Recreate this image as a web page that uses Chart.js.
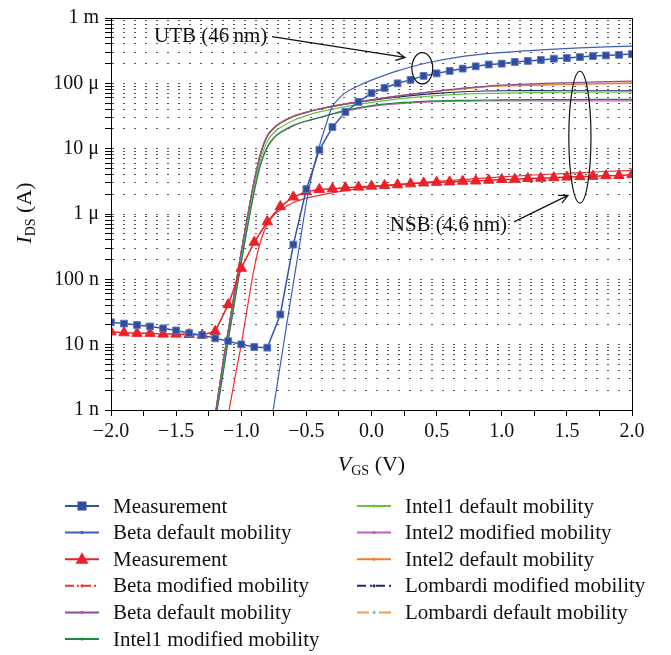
<!DOCTYPE html>
<html>
<head>
<meta charset="utf-8">
<script src="https://cdn.jsdelivr.net/npm/chart.js@4/dist/chart.umd.min.js"></script>
<style>
  html, body { margin: 0; padding: 0; background: #fff; }
  #wrap { width: 671px; height: 655px; position: relative; }
</style>
</head>
<body>
<div id="wrap"><canvas id="graph"></canvas></div>
<script>
// measured points, 0.1 V steps
const vgsMeas = [-2.0, -1.9, -1.8, -1.7, -1.6, -1.5, -1.4, -1.3, -1.2, -1.1, -1.0, -0.9, -0.8, -0.7, -0.6, -0.5, -0.4, -0.3, -0.2, -0.1,
  0.0, 0.1, 0.2, 0.3, 0.4, 0.5, 0.6, 0.7, 0.8, 0.9, 1.0, 1.1, 1.2, 1.3, 1.4, 1.5, 1.6, 1.7, 1.8, 1.9, 2.0];
const idsUtbMeas = [2.2e-8, 2.1e-8, 2.0e-8, 1.9e-8, 1.78e-8, 1.65e-8, 1.5e-8, 1.4e-8, 1.25e-8, 1.13e-8, 1.01e-8, 9.2e-9, 9.0e-9,
  2.9e-8, 3.4e-7, 2.4e-6, 9.6e-6, 2.14e-5, 3.65e-5, 5.2e-5, 7.1e-5, 8.5e-5, 1.0e-4, 1.13e-4, 1.3e-4, 1.42e-4, 1.55e-4,
  1.68e-4, 1.82e-4, 1.94e-4, 2.0e-4, 2.12e-4, 2.2e-4, 2.28e-4, 2.38e-4, 2.44e-4, 2.52e-4, 2.61e-4, 2.67e-4, 2.73e-4, 2.8e-4];
const idsNsbMeas = [1.57e-8, 1.52e-8, 1.49e-8, 1.49e-8, 1.45e-8, 1.45e-8, 1.43e-8, 1.4e-8, 1.6e-8, 4.1e-8, 1.48e-7, 3.7e-7,
  7.6e-7, 1.3e-6, 1.82e-6, 2.2e-6, 2.38e-6, 2.44e-6, 2.52e-6, 2.58e-6, 2.67e-6, 2.73e-6, 2.8e-6, 2.9e-6, 2.99e-6, 3.06e-6,
  3.1e-6, 3.17e-6, 3.2e-6, 3.29e-6, 3.37e-6, 3.4e-6, 3.49e-6, 3.53e-6, 3.6e-6, 3.67e-6, 3.73e-6, 3.77e-6, 3.85e-6, 3.88e-6, 4.0e-6];

// UTB simulation (beta default mobility)
const vgsUtbSim = [-0.77, -0.70, -0.65, -0.60, -0.55, -0.50, -0.45, -0.40, -0.35, -0.30, -0.20, -0.10, 0.0, 0.2, 0.45, 0.8, 1.3, 1.6, 2.0];
const idsUtbSim = [6.5e-10, 4.9e-9, 2.1e-8, 8.7e-8, 3.6e-7, 1.5e-6, 4.6e-6, 1.1e-5, 2.3e-5, 4.4e-5, 7.2e-5, 9.2e-5, 1.12e-4,
  1.55e-4, 2.1e-4, 2.72e-4, 3.25e-4, 3.5e-4, 3.7e-4];

// NSB simulation (beta modified mobility)
const vgsNsbSim = [-1.11, -1.05, -1.0, -0.95, -0.90, -0.85, -0.80, -0.75, -0.70, -0.60, -0.45, -0.2, 0.0, 0.5, 1.0, 1.5, 2.0];
const idsNsbSim = [6.5e-10, 3.0e-9, 1.0e-8, 4.0e-8, 1.5e-7, 3.9e-7, 7.0e-7, 9.5e-7, 1.15e-6, 1.5e-6, 1.85e-6, 2.28e-6,
  2.62e-6, 3.15e-6, 3.7e-6, 4.2e-6, 4.66e-6];

// other mobility models, shared gate voltages
const vgsModel = [-1.21, -1.15, -1.10, -1.05, -1.00, -0.95, -0.90, -0.85, -0.80, -0.75, -0.70, -0.60, -0.50, -0.40, -0.20,
  0.00, 0.25, 0.50, 0.75, 1.00, 1.50, 2.00];
const idsBetaDefault = [6e-10, 3.8e-9, 1.6e-8, 6.5e-8, 2.6e-7, 9.5e-7, 3.2e-6, 8.5e-6, 1.55e-5, 2.05e-5, 2.45e-5, 3.1e-5,
  3.6e-5, 4.05e-5, 4.85e-5, 5.6e-5, 6.6e-5, 7.6e-5, 8.6e-5, 9.4e-5, 1.02e-4, 1.08e-4];
const idsIntel1Mod = [5e-10, 2.7e-9, 1.15e-8, 4.6e-8, 1.8e-7, 6.6e-7, 2.2e-6, 5.8e-6, 1.05e-5, 1.45e-5, 1.75e-5, 2.25e-5,
  2.65e-5, 3.0e-5, 3.85e-5, 4.55e-5, 5.1e-5, 5.4e-5, 5.5e-5, 5.6e-5, 5.65e-5, 5.7e-5];
const idsIntel1Def = [5.5e-10, 3.0e-9, 1.3e-8, 5.2e-8, 2.1e-7, 7.8e-7, 2.6e-6, 7.0e-6, 1.3e-5, 1.75e-5, 2.1e-5, 2.7e-5,
  3.2e-5, 3.65e-5, 4.4e-5, 5.1e-5, 5.9e-5, 6.5e-5, 6.9e-5, 7.1e-5, 7.3e-5, 7.4e-5];
const idsIntel2Mod = [5e-10, 2.8e-9, 1.2e-8, 4.8e-8, 1.9e-7, 6.8e-7, 2.3e-6, 6.0e-6, 1.08e-5, 1.48e-5, 1.78e-5, 2.27e-5,
  2.65e-5, 2.98e-5, 3.75e-5, 4.45e-5, 4.95e-5, 5.25e-5, 5.35e-5, 5.4e-5, 5.4e-5, 5.4e-5];
const idsIntel2Def = [6e-10, 3.9e-9, 1.65e-8, 6.6e-8, 2.65e-7, 9.7e-7, 3.3e-6, 8.8e-6, 1.6e-5, 2.1e-5, 2.5e-5, 3.15e-5,
  3.62e-5, 4.08e-5, 4.85e-5, 5.6e-5, 6.6e-5, 7.5e-5, 8.4e-5, 9.1e-5, 9.6e-5, 1.0e-4];
const idsLombardiMod = [6e-10, 3.9e-9, 1.65e-8, 6.6e-8, 2.65e-7, 9.6e-7, 3.25e-6, 8.6e-6, 1.58e-5, 2.08e-5, 2.48e-5, 3.12e-5,
  3.6e-5, 4.05e-5, 4.8e-5, 5.5e-5, 6.3e-5, 7.0e-5, 7.5e-5, 7.7e-5, 7.7e-5, 7.7e-5];
const idsLombardiDef = [6e-10, 3.9e-9, 1.62e-8, 6.5e-8, 2.6e-7, 9.6e-7, 3.25e-6, 8.7e-6, 1.58e-5, 2.08e-5, 2.48e-5, 3.12e-5,
  3.6e-5, 4.06e-5, 4.85e-5, 5.6e-5, 6.6e-5, 7.55e-5, 8.5e-5, 9.2e-5, 9.8e-5, 1.02e-4];

const yTickLabels = ['1 n', '10 n', '100 n', '1 \u03bc', '10 \u03bc', '100 \u03bc', '1 m'];

const FONT = "'Liberation Serif', 'DejaVu Serif', serif";

function pts(xs, ys) {
  return xs.map((x, i) => ({ x: x, y: ys[i] }));
}

function simLine(label, xs, ys, color, extra) {
  return Object.assign({
    label: label,
    data: pts(xs, ys),
    borderColor: color,
    backgroundColor: color,
    borderWidth: 1.2,
    pointRadius: 0,
    tension: 0.3,
    legendDot: color
  }, extra || {});
}

const datasets = [
  {
    label: 'Measurement',
    data: pts(vgsMeas, idsUtbMeas),
    borderColor: '#3553a6',
    backgroundColor: '#2f4c9e',
    pointBorderColor: '#5b78c0',
    borderWidth: 1.5,
    pointStyle: 'rect',
    pointRadius: 4.8,
    pointBorderWidth: 1
  },
  simLine('Beta default mobility', vgsUtbSim, idsUtbSim, '#3d5fb8'),
  {
    label: 'Measurement',
    data: pts(vgsMeas, idsNsbMeas),
    borderColor: '#ec2028',
    backgroundColor: '#ec2028',
    borderWidth: 1.5,
    pointStyle: 'triangle',
    pointRadius: 6,
    pointBorderWidth: 1
  },
  simLine('Beta modified mobility', vgsNsbSim, idsNsbSim, '#ee2f34', { legendDash: [9, 3, 2, 3] }),
  simLine('Beta default mobility', vgsModel, idsBetaDefault, '#8a4a9e', { legendDot: '#e040a0' }),
  simLine('Intel1 modified mobility', vgsModel, idsIntel1Mod, '#1b8a3a'),
  simLine('Intel1 default mobility', vgsModel, idsIntel1Def, '#69c43c'),
  simLine('Intel2 modified mobility', vgsModel, idsIntel2Mod, '#c35ec2'),
  simLine('Intel2 default mobility', vgsModel, idsIntel2Def, '#f07f2c'),
  simLine('Lombardi modified mobility', vgsModel, idsLombardiMod, '#1d2870', { legendDash: [9, 4, 2, 4] }),
  simLine('Lombardi default mobility', vgsModel, idsLombardiDef, '#f39a52', { legendDash: [12, 10], legendDot: '#5ccbe2' })
];

// annotations in data coordinates
const notes = {
  utbText: { text: 'UTB (46\u2009nm)', x: -0.80, y: 5.18e-4 },
  utbArrow: { x0: -0.764, y0: 5.18e-4, x1: 0.257, y1: 2.49e-4 },
  utbEllipse: { x: 0.39, top: 2.96e-4, bottom: 9.8e-5, rx: 0.08 },
  nsbText: { text: 'NSB (4.6\u2009nm)', x: 0.14, y: 6.6e-7 },
  nsbArrow: { x0: 1.094, y0: 7.57e-7, x1: 1.509, y1: 1.93e-6 },
  nsbEllipse: { x: 1.6, top: 1.53e-4, bottom: 1.47e-6, rx: 0.085 }
};

function arrow(ctx, x0, y0, x1, y1) {
  ctx.beginPath();
  ctx.moveTo(x0, y0);
  ctx.lineTo(x1, y1);
  const a = Math.atan2(y1 - y0, x1 - x0);
  const L = 10, w = 0.45;
  ctx.moveTo(x1 - L * Math.cos(a - w), y1 - L * Math.sin(a - w));
  ctx.lineTo(x1, y1);
  ctx.lineTo(x1 - L * Math.cos(a + w), y1 - L * Math.sin(a + w));
  ctx.stroke();
}

const framePlugin = {
  id: 'frame',
  afterDatasetsDraw(chart) {
    const { ctx, chartArea: a } = chart;
    ctx.save();
    ctx.strokeStyle = '#000';
    ctx.lineWidth = 1;
    ctx.strokeRect(a.left + 0.5, a.top + 0.5, a.right - a.left, a.bottom - a.top);
    ctx.restore();
  }
};

const notesPlugin = {
  id: 'notes',
  afterDatasetsDraw(chart) {
    const ctx = chart.ctx;
    const sx = chart.scales.x, sy = chart.scales.y;
    const px = v => sx.getPixelForValue(v);
    const py = v => sy.getPixelForValue(v);
    ctx.save();
    ctx.strokeStyle = '#111';
    ctx.fillStyle = '#111';
    ctx.lineWidth = 1.2;
    ctx.font = '21px ' + FONT;
    ctx.textBaseline = 'middle';

    ctx.textAlign = 'right';
    ctx.fillText(notes.utbText.text, px(notes.utbText.x), py(notes.utbText.y));
    ctx.textAlign = 'left';
    ctx.fillText(notes.nsbText.text, px(notes.nsbText.x), py(notes.nsbText.y));

    [notes.utbArrow, notes.nsbArrow].forEach(r => {
      arrow(ctx, px(r.x0), py(r.y0), px(r.x1), py(r.y1));
    });
    [notes.utbEllipse, notes.nsbEllipse].forEach(e => {
      const cx = px(e.x);
      const rx = px(e.x + e.rx) - cx;
      const t = py(e.top), b = py(e.bottom);
      ctx.beginPath();
      ctx.ellipse(cx, (t + b) / 2, rx, (b - t) / 2, 0, 0, Math.PI * 2);
      ctx.stroke();
    });
    ctx.restore();
  }
};

function richText(ctx, parts, cx, cy) {
  // parts: [text, size, italic, dy]
  let total = 0;
  parts.forEach(p => {
    ctx.font = (p[2] ? 'italic ' : '') + p[1] + 'px ' + FONT;
    total += ctx.measureText(p[0]).width;
  });
  let x = cx - total / 2;
  parts.forEach(p => {
    ctx.font = (p[2] ? 'italic ' : '') + p[1] + 'px ' + FONT;
    ctx.fillText(p[0], x, cy + p[3]);
    x += ctx.measureText(p[0]).width;
  });
}

const titlesPlugin = {
  id: 'titles',
  afterDraw(chart) {
    const ctx = chart.ctx;
    const a = chart.chartArea;
    ctx.save();
    ctx.fillStyle = '#111';
    ctx.textAlign = 'left';
    ctx.textBaseline = 'alphabetic';
    richText(ctx, [['V', 22, true, 0], ['GS', 14, false, 4], [' (V)', 22, false, 0]], (a.left + a.right) / 2, a.bottom + 61);
    ctx.translate(31, (a.top + a.bottom) / 2 - 1);
    ctx.rotate(-Math.PI / 2);
    richText(ctx, [['I', 22, true, 0], ['DS', 14, false, 4], [' (A)', 22, false, 0]], 0, 0);
    ctx.restore();
  }
};

const legendPlugin = {
  id: 'legendBox',
  afterDraw(chart) {
    const ctx = chart.ctx;
    const cols = [[0, 1, 2, 3, 4, 5], [6, 7, 8, 9, 10]];
    const colX = [65, 357];
    const row0 = 506, rowH = 26.6, len = 34;
    ctx.save();
    ctx.font = '21px ' + FONT;
    ctx.textBaseline = 'middle';
    ctx.textAlign = 'left';
    cols.forEach((col, c) => {
      col.forEach((di, r) => {
        const ds = chart.data.datasets[di];
        const x0 = colX[c], y = row0 + r * rowH, xm = x0 + len / 2;
        ctx.strokeStyle = ds.borderColor;
        ctx.lineWidth = 2;
        ctx.setLineDash(ds.legendDash || []);
        ctx.beginPath();
        ctx.moveTo(x0, y);
        ctx.lineTo(x0 + len, y);
        ctx.stroke();
        ctx.setLineDash([]);
        if (ds.pointStyle === 'rect') {
          ctx.fillStyle = ds.backgroundColor;
          ctx.fillRect(xm - 4.5, y - 4.5, 9, 9);
        } else if (ds.pointStyle === 'triangle') {
          ctx.fillStyle = ds.backgroundColor;
          ctx.beginPath();
          ctx.moveTo(xm, y - 7);
          ctx.lineTo(xm + 6.5, y + 4.5);
          ctx.lineTo(xm - 6.5, y + 4.5);
          ctx.closePath();
          ctx.fill();
        } else if (ds.legendDot) {
          ctx.fillStyle = ds.legendDot;
          ctx.beginPath();
          ctx.arc(xm, y, 1.6, 0, Math.PI * 2);
          ctx.fill();
        }
        ctx.fillStyle = '#111';
        ctx.fillText(ds.label, x0 + 48, y + 1);
      });
    });
    ctx.restore();
  }
};

document.addEventListener('DOMContentLoaded', () => {
  const graph = document.getElementById('graph').getContext('2d');

  new Chart(graph, {
    type: 'line',
    data: { datasets: datasets },
    plugins: [framePlugin, notesPlugin, titlesPlugin, legendPlugin],
    options: {
      responsive: true,
      maintainAspectRatio: false,
      animation: false,
      layout: { padding: { left: 0, right: 39, top: 12, bottom: 185 } },
      scales: {
        x: {
          type: 'linear',
          min: -2,
          max: 2,
          afterFit: s => { s.height = 60; },
          afterBuildTicks: s => {
            const t = [];
            for (let i = 0; i <= 16; i++) t.push({ value: -2 + i * 0.25 });
            s.ticks = t;
          },
          ticks: {
            autoSkip: false,
            maxRotation: 0,
            padding: 4,
            color: '#111',
            font: { family: FONT, size: 20 },
            callback: v => Math.abs(v * 2 - Math.round(v * 2)) < 1e-9 ? v.toFixed(1).replace('-', '\u2212') : ''
          },
          grid: { drawOnChartArea: false, tickLength: 6, tickColor: '#000' },
          border: { color: '#000', width: 1 }
        },
        y: {
          type: 'logarithmic',
          min: 1e-9,
          max: 1e-3,
          afterFit: s => { s.width = 111; },
          afterBuildTicks: s => {
            const t = [];
            for (let e = -9; e < -3; e++) {
              for (let m = 1; m < 10; m++) t.push({ value: m * Math.pow(10, e) });
            }
            t.push({ value: 1e-3 });
            s.ticks = t;
          },
          ticks: {
            autoSkip: false,
            padding: 6,
            color: '#111',
            font: { family: FONT, size: 20 },
            callback: v => {
              const l = Math.log10(v);
              return Math.abs(l - Math.round(l)) < 1e-6 ? yTickLabels[Math.round(l) + 9] : '';
            }
          },
          grid: {
            color: c => (c.tick && (c.tick.value <= 1.0001e-9 || c.tick.value >= 0.9999e-3)) ? 'rgba(0,0,0,0)' : '#555',
            lineWidth: 1,
            tickLength: 6,
            tickColor: '#000'
          },
          border: { color: '#000', width: 1, dash: [2, 9] }
        }
      },
      plugins: {
        legend: { display: false },
        tooltip: { enabled: false }
      }
    }
  });
});
</script>
</body>
</html>
